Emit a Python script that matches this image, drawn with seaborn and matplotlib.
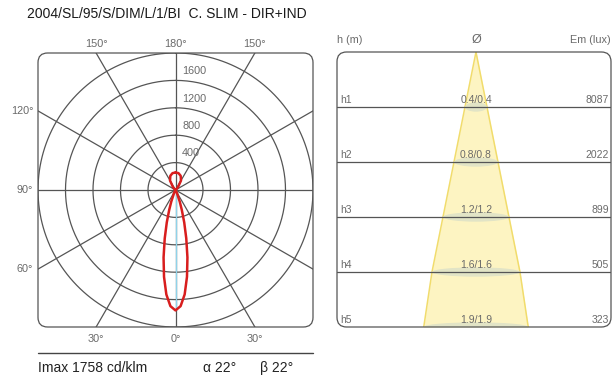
import numpy as np
import pandas as pd
import seaborn as sns
import matplotlib.pyplot as plt
from matplotlib.patches import FancyBboxPatch, Ellipse
from matplotlib.lines import Line2D

sns.set_theme(style="white")
plt.rcParams['font.family'] = ['Liberation Sans', 'DejaVu Sans']

# data
title = "2004/SL/95/S/DIM/L/1/BI  C. SLIM - DIR+IND"
angles = [0, 2.5, 5, 7.5, 10, 12.5, 15, 17.5, 20, 25, 30, 40,
          120, 130, 140, 150, 160, 170, 180]
intensity = [1758, 1697, 1530, 1279, 1000, 724, 490, 305, 180, 50, 10, 0,
             0, 15, 60, 160, 220, 250, 255]
rings = [400, 800, 1200, 1600, 2000]
spokes = [0, 30, 60, 90, 120, 150, 180, 210, 240, 270, 300, 330]
imax = 1758
alpha_deg = 22
beta_deg = 22

h_labels = ["h1", "h2", "h3", "h4", "h5"]
h_m = [1, 2, 3, 4, 5]
diam = [0.4, 0.8, 1.2, 1.6, 1.9]
lux = [8087, 2022, 899, 505, 323]

W, H = 614, 377
def fx(px):
    return px / W
def fy(py):
    return 1 - py / H

fig = plt.figure(figsize=(W / 100, H / 100), dpi=100)
grid_c = '#555555'
txt_c = '#6a6a6a'

# ---- left: polar diagram ----
ax1 = fig.add_axes([fx(38), fy(327), 275 / W, 274 / H])
ax1.set_xlim(-2000, 2000)
ax1.set_ylim(-2000, 2000)
ax1.set_axis_off()
box1 = FancyBboxPatch((0, 0), 1, 1, boxstyle="round,pad=0,rounding_size=0.035",
                      transform=ax1.transAxes, fc='none', ec=grid_c, lw=0.9, clip_on=False)
ax1.add_patch(box1)

t = np.linspace(0, 2 * np.pi, 361)
for r in rings:
    ln, = ax1.plot(r * np.sin(t), r * np.cos(t), color=grid_c, lw=0.9)
    ln.set_clip_path(box1)
for a in spokes:
    th = np.radians(a)
    ln, = ax1.plot([0, 3000 * np.sin(th)], [0, -3000 * np.cos(th)], color=grid_c, lw=0.9)
    ln.set_clip_path(box1)
for r in rings[:-1]:
    ax1.text(95, r + 135, str(r), fontsize=7.8, color=txt_c, ha='left', va='center')

off = 2000 * np.tan(np.radians(30))
for x, lab in [(-off, "150°"), (0, "180°"), (off, "150°")]:
    ax1.text(x, 2130, lab, fontsize=7.8, color=txt_c, ha='center', va='center', clip_on=False)
for y, lab in [(off, "120°"), (0, "90°"), (-off, "60°")]:
    ax1.text(-2070, y, lab, fontsize=7.8, color=txt_c, ha='right', va='center', clip_on=False)
for x, lab in [(-off, "30°"), (0, "0°"), (off, "30°")]:
    ax1.text(x, -2170, lab, fontsize=7.8, color=txt_c, ha='center', va='center', clip_on=False)

ax1.plot([0, 0], [0, -imax], color='#8fd3ea', lw=0.9)
full_ang = [-a for a in reversed(angles)] + angles[1:]
full_int = list(reversed(intensity)) + intensity[1:]
th = np.radians(full_ang)
curve = pd.DataFrame({'x': np.array(full_int) * np.sin(th),
                      'y': -np.array(full_int) * np.cos(th)})
sns.lineplot(data=curve, x='x', y='y', sort=False, estimator=None,
             color='#d81e1e', lw=1.8, ax=ax1)
ax1.set_xlim(-2000, 2000)
ax1.set_ylim(-2000, 2000)
ax1.set_axis_off()

# ---- right: illuminance cone ----
ax2 = fig.add_axes([fx(337), fy(327), 274 / W, 275 / H])
ax2.set_xlim(-2.527, 2.455)
ax2.set_ylim(5, 0)
ax2.set_axis_off()
box2 = FancyBboxPatch((0, 0), 1, 1, boxstyle="round,pad=0,rounding_size=0.035",
                      transform=ax2.transAxes, fc='none', ec=grid_c, lw=0.9, clip_on=False, zorder=5)
ax2.add_patch(box2)

half = [d / 2 for d in diam]
ax2.fill_betweenx([0] + h_m, [0] + [-v for v in half], [0] + half,
                  color='#fdf4c2', lw=0, zorder=1)
ax2.plot([0] + [-v for v in half], [0] + h_m, color='#f1dc6c', lw=1.1, zorder=2)
ax2.plot([0] + half, [0] + h_m, color='#f1dc6c', lw=1.1, zorder=2)
for h, d in zip(h_m, diam):
    e = Ellipse((0, h), d, 0.17, fc='#e2e4c6', ec='none', zorder=2)
    ax2.add_patch(e)
    e.set_clip_path(box2)
for h in h_m[:-1]:
    ax2.axhline(h, color=grid_c, lw=0.9, zorder=3)
for lab, h, d, e in zip(h_labels, h_m, diam, lux):
    ax2.text(-2.47, h - 0.13, lab, fontsize=7.5, color=txt_c, ha='left', va='center', zorder=4)
    ax2.text(0, h - 0.13, f"{d:.1f}/{d:.1f}", fontsize=7.5, color=txt_c, ha='center', va='center', zorder=4)
    ax2.text(2.42, h - 0.13, str(e), fontsize=7.5, color=txt_c, ha='right', va='center', zorder=4)

ax2.text(-2.527, -0.22, "h (m)", fontsize=7.8, color=txt_c, ha='left', va='center', clip_on=False)
ax2.text(0, -0.22, "Ø", fontsize=9, color=txt_c, ha='center', va='center', clip_on=False)
ax2.text(2.455, -0.22, "Em (lux)", fontsize=7.8, color=txt_c, ha='right', va='center', clip_on=False)

# ---- title and footer ----
fig.text(fx(27), fy(14), title, fontsize=10, color='#1a1a1a', ha='left', va='center')
fig.add_artist(Line2D([fx(38), fx(313)], [fy(353), fy(353)], color='#444444', lw=1))
fig.text(fx(38), fy(368), f"Imax {imax} cd/klm", fontsize=10, color='#222222', va='center')
fig.text(fx(203), fy(368), f"α {alpha_deg}°", fontsize=10, color='#222222', va='center')
fig.text(fx(260), fy(368), f"β {beta_deg}°", fontsize=10, color='#222222', va='center')

fig.savefig("out.png", dpi=100)
